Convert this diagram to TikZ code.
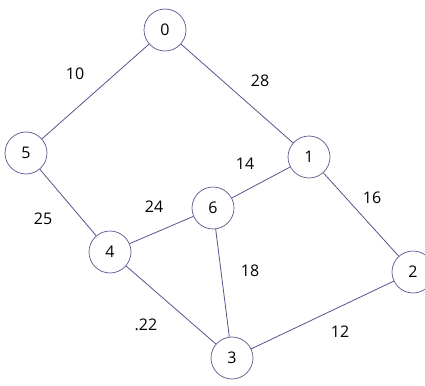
\documentclass[tikz,border=0pt]{standalone}
\usepackage{fontspec}
\setmainfont{Open Sans}
\begin{document}
\begin{tikzpicture}[x=1pt,y=-1pt,
  vert/.style={circle,draw=edgecol,line width=0.7pt,minimum size=42pt,inner sep=0pt,font=\fontsize{16}{19}\selectfont},
  edge/.style={draw=edgecol,line width=0.8pt},
  wlab/.style={font=\fontsize{16}{19}\selectfont,text=black}]
\definecolor{edgecol}{RGB}{95,80,140}
\useasboundingbox (0,0) rectangle (425,385);
\node[vert] (n0) at (165,30) {0};
\node[vert] (n1) at (309,157) {1};
\node[vert] (n2) at (413,272) {2};
\node[vert] (n3) at (232,358) {3};
\node[vert] (n4) at (110,252) {4};
\node[vert] (n5) at (26,153) {5};
\node[vert] (n6) at (213,208) {6};
\draw[edge] (n0) -- (n5);
\draw[edge] (n0) -- (n1);
\draw[edge] (n1) -- (n6);
\draw[edge] (n1) -- (n2);
\draw[edge] (n5) -- (n4);
\draw[edge] (n4) -- (n6);
\draw[edge] (n4) -- (n3);
\draw[edge] (n6) -- (n3);
\draw[edge] (n2) -- (n3);
\node[wlab] (w10) at (75,74) {10};
\node[wlab] (w28) at (260,81) {28};
\node[wlab] (w14) at (245,164) {14};
\node[wlab] (w16) at (372,198) {16};
\node[wlab] (w24) at (154,207) {24};
\node[wlab] (w25) at (43,219) {25};
\node[wlab] (w18) at (250,271) {18};
\node[wlab] (w22) at (146,325) {.22};
\node[wlab] (w12) at (340,332) {12};
\end{tikzpicture}
\end{document}
